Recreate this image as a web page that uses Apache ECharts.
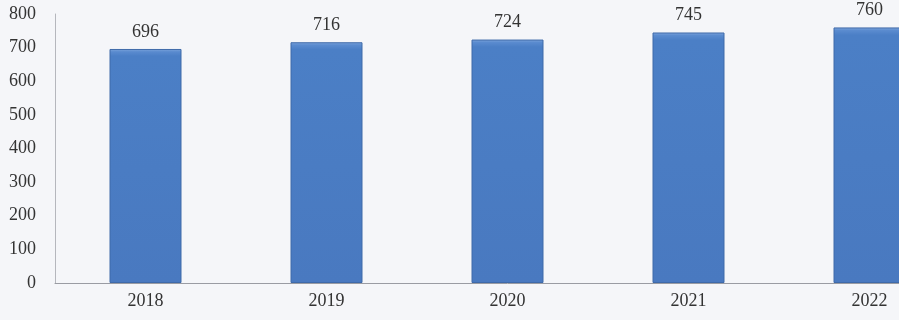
<!DOCTYPE html>
<html>
<head>
<meta charset="utf-8">
<script src="https://cdn.jsdelivr.net/npm/echarts@6/dist/echarts.min.js"></script>
<style>html,body{margin:0;padding:0;background:#f5f6f9;overflow:hidden;width:899px;height:320px;}#c{width:960px;height:320px;}</style>
</head>
<body>
<div id="c"></div>
<script>
const years = ['2018', '2019', '2020', '2021', '2022'];
const values = [696, 716, 724, 745, 760];
const yTicks = [0, 100, 200, 300, 400, 500, 600, 700, 800];

const chart = echarts.init(document.getElementById('c'));
const font = '"Liberation Serif", "DejaVu Serif", serif';
chart.setOption({
  backgroundColor: '#f5f6f9',
  animation: false,
  grid: { left: 55, top: 14, right: 0, height: 269 },
  xAxis: {
    type: 'category',
    data: years,
    axisLine: { lineStyle: { color: '#9a9ca3', width: 1 } },
    axisTick: { show: false },
    axisLabel: { color: '#333', fontFamily: font, fontSize: 18, margin: 9 }
  },
  yAxis: {
    type: 'value',
    min: yTicks[0], max: yTicks[yTicks.length - 1], interval: 100,
    axisLine: { show: true, lineStyle: { color: '#b5b7bd', width: 1 } },
    axisTick: { show: false },
    splitLine: { show: false },
    axisLabel: { color: '#333', fontFamily: font, fontSize: 18, margin: 19 }
  },
  series: [{
    type: 'bar',
    data: values,
    barWidth: 72,
    itemStyle: {
      color: new echarts.graphic.LinearGradient(0, 0, 0, 1, [
        { offset: 0, color: '#7fa6dc' },
        { offset: 0.012, color: '#5a8bcf' },
        { offset: 0.03, color: '#4b7fc6' },
        { offset: 1, color: '#4979c0' }
      ]),
      borderColor: '#3f6aa9',
      borderWidth: 1
    },
    label: {
      show: true, position: 'top', distance: 8,
      color: '#333', fontFamily: font, fontSize: 18
    }
  }]
});
</script>
</body>
</html>
